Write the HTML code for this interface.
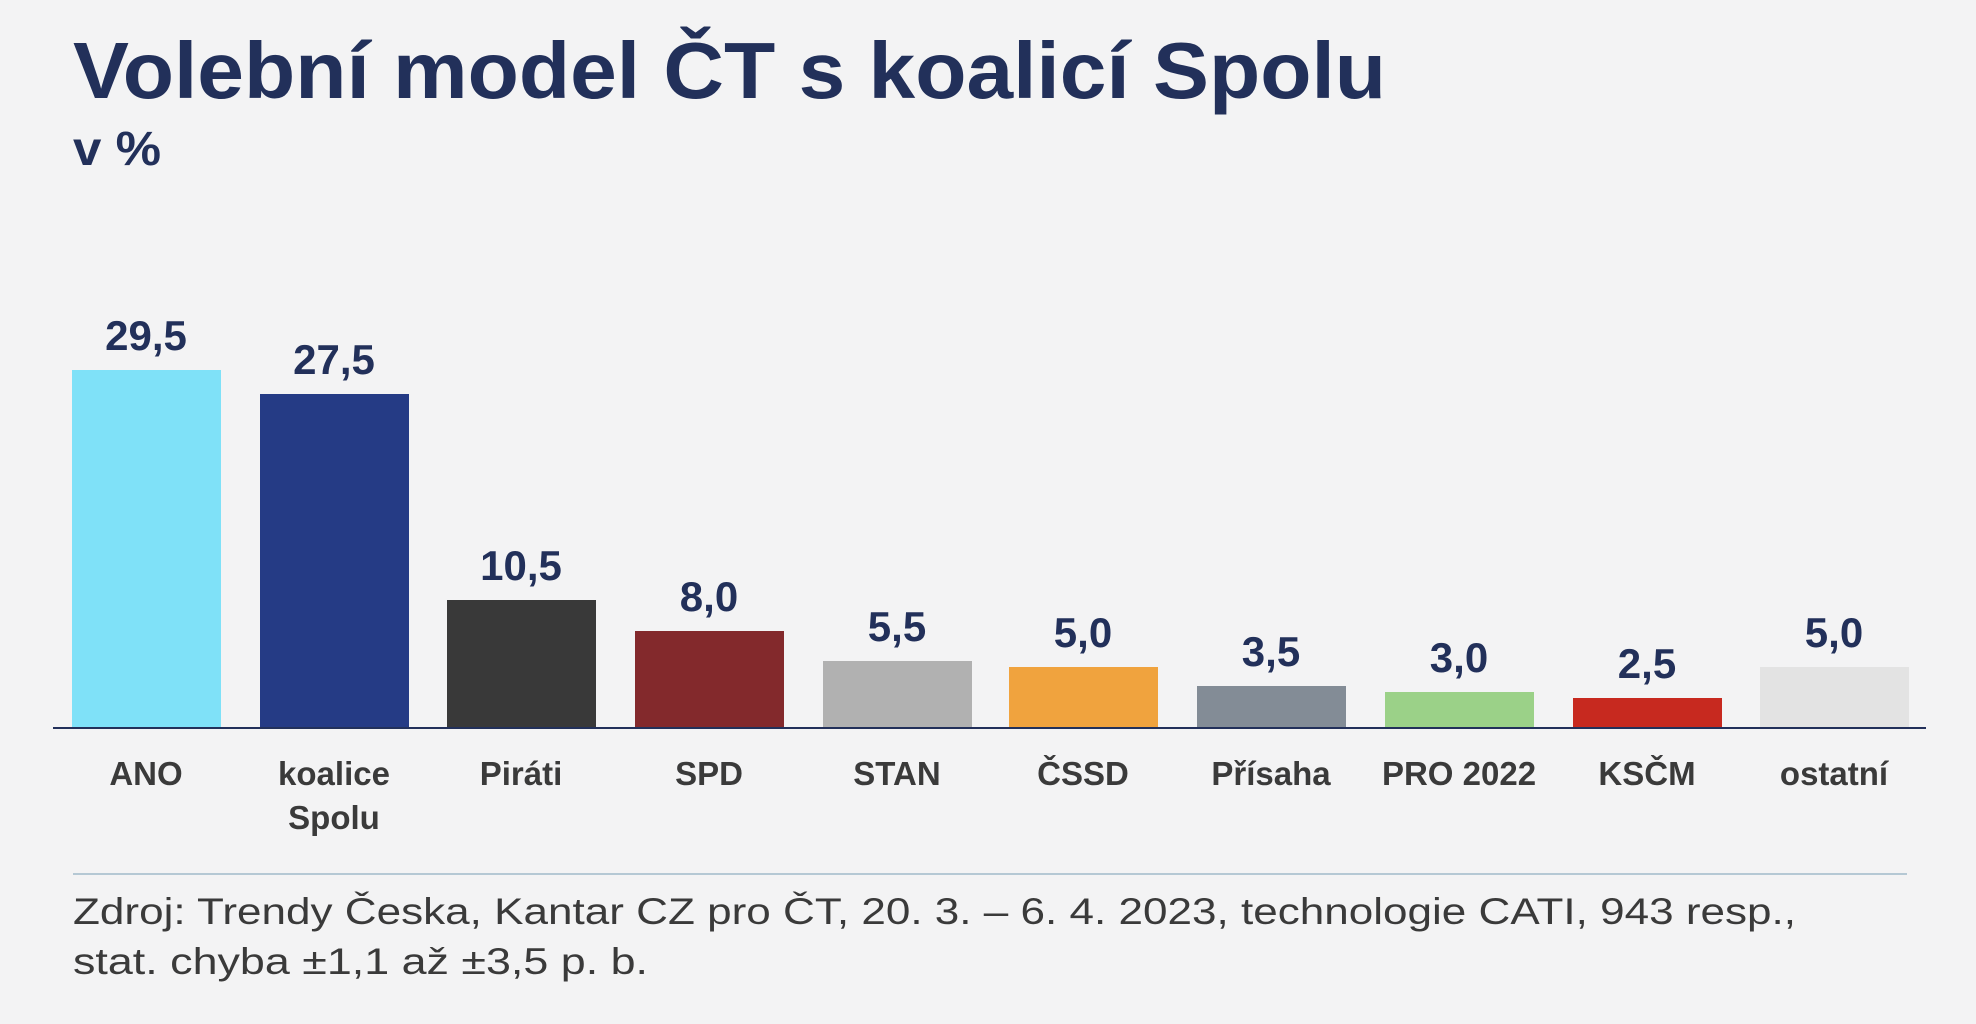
<!DOCTYPE html>
<html><head><meta charset="utf-8"><style>
html,body{margin:0;padding:0;background:#f3f3f4;}
svg{display:block}
</style></head><body>
<svg width="1976" height="1024" viewBox="0 0 1976 1024" xmlns="http://www.w3.org/2000/svg" font-family="Liberation Sans, DejaVu Sans, sans-serif">
<rect width="1976" height="1024" fill="#f3f3f4"/>
<text x="73" y="98" font-size="80" font-weight="bold" fill="#22305a" textLength="1313" lengthAdjust="spacingAndGlyphs">Volební model ČT s koalicí Spolu</text>
<text x="73" y="165" font-size="48" font-weight="bold" fill="#22305a" textLength="88" lengthAdjust="spacingAndGlyphs">v %</text>
<g>
<rect x="72" y="370" width="149" height="358" fill="#7fe1f8"/>
<rect x="260" y="394" width="149" height="334" fill="#253b85"/>
<rect x="447" y="600" width="149" height="128" fill="#393939"/>
<rect x="635" y="631" width="149" height="97" fill="#83292c"/>
<rect x="823" y="661" width="149" height="67" fill="#b1b1b1"/>
<rect x="1009" y="667" width="149" height="61" fill="#f0a33e"/>
<rect x="1197" y="686" width="149" height="42" fill="#838c96"/>
<rect x="1385" y="692" width="149" height="36" fill="#9bd188"/>
<rect x="1573" y="698" width="149" height="30" fill="#c7291f"/>
<rect x="1760" y="667" width="149" height="61" fill="#e3e3e3"/>
</g>
<line x1="53" y1="728" x2="1926" y2="728" stroke="#22305a" stroke-width="2"/>
<g font-size="42" font-weight="bold" fill="#22305a" text-anchor="middle">
<text x="146" y="350">29,5</text>
<text x="334" y="374">27,5</text>
<text x="521" y="580">10,5</text>
<text x="709" y="611">8,0</text>
<text x="897" y="641">5,5</text>
<text x="1083" y="647">5,0</text>
<text x="1271" y="666">3,5</text>
<text x="1459" y="672">3,0</text>
<text x="1647" y="678">2,5</text>
<text x="1834" y="647">5,0</text>
</g>
<g font-size="33" font-weight="bold" fill="#3a3a3a" text-anchor="middle">
<text x="146" y="785">ANO</text>
<text x="334" y="785">koalice</text>
<text x="334" y="829">Spolu</text>
<text x="521" y="785">Piráti</text>
<text x="709" y="785">SPD</text>
<text x="897" y="785">STAN</text>
<text x="1083" y="785">ČSSD</text>
<text x="1271" y="785">Přísaha</text>
<text x="1459" y="785">PRO 2022</text>
<text x="1647" y="785">KSČM</text>
<text x="1834" y="785">ostatní</text>
</g>
<line x1="73" y1="874" x2="1907" y2="874" stroke="#b5c8d4" stroke-width="2"/>
<text x="73" y="924" font-size="37" fill="#3a3a3a" textLength="1723" lengthAdjust="spacingAndGlyphs">Zdroj: Trendy Česka, Kantar CZ pro ČT, 20. 3. – 6. 4. 2023, technologie CATI, 943 resp.,</text>
<text x="73" y="974" font-size="37" fill="#3a3a3a" textLength="575" lengthAdjust="spacingAndGlyphs">stat. chyba ±1,1 až ±3,5 p. b.</text>
</svg>
</body></html>
